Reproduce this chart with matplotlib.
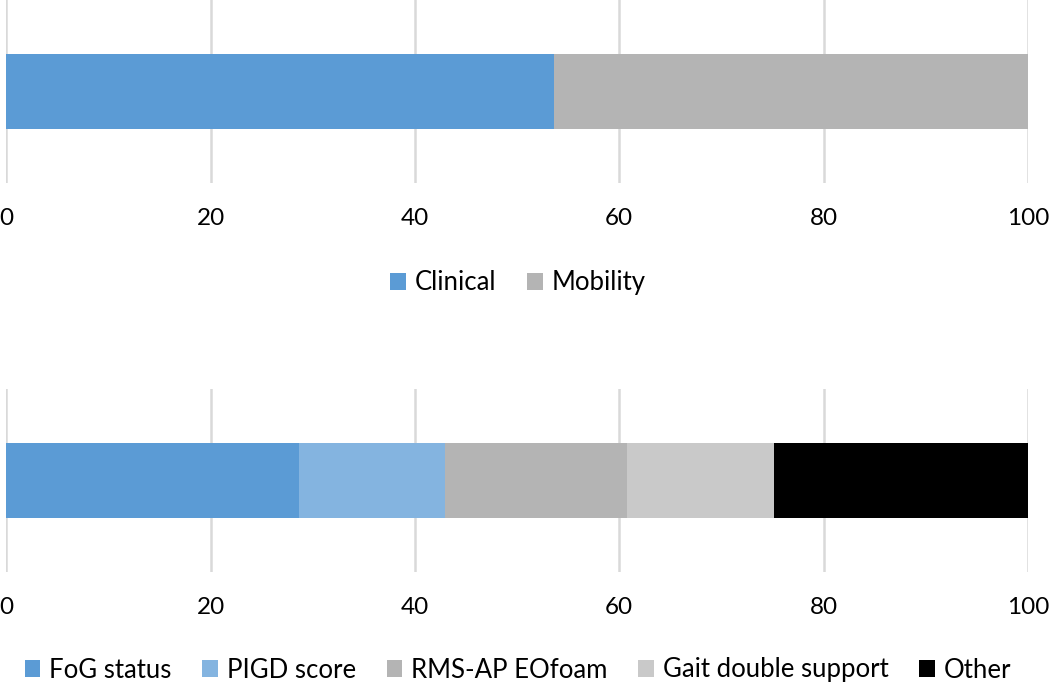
import matplotlib
matplotlib.use("Agg")
import matplotlib.pyplot as plt
from matplotlib.patches import Patch

plt.rcParams['font.family'] = ['Lato', 'DejaVu Sans']

top_labels = ["Clinical", "Mobility"]
top_values = [53.6, 46.4]
top_colors = ["#5B9BD5", "#B4B4B4"]

bot_labels = ["FoG status", "PIGD score", "RMS-AP EOfoam", "Gait double support", "Other"]
bot_values = [28.6, 14.3, 17.9, 14.3, 24.9]
bot_colors = ["#5B9BD5", "#84B4E0", "#B4B4B4", "#C9C9C9", "#000000"]

xticks = [0, 20, 40, 60, 80, 100]

W, H = 1050, 686
fig = plt.figure(figsize=(W / 100, H / 100), dpi=100)

def make_axes(top_px, bottom_px):
    left = 6.4 / W
    width = 1021.5 / W
    return fig.add_axes([left, 1 - bottom_px / H, width, (bottom_px - top_px) / H])

def draw(ax, values, colors, labels, legend_y):
    left = 0
    for v, c, l in zip(values, colors, labels):
        ax.barh([0], [v], left=left, height=0.405, color=c, label=l, zorder=2)
        left += v
    ax.set_xlim(0, 100)
    ax.set_ylim(-0.5, 0.5)
    ax.set_xticks(xticks)
    ax.set_xticklabels([str(t) for t in xticks], fontsize=17.5)
    ax.set_yticks([])
    ax.tick_params(axis='x', length=0, pad=18)
    for s in ax.spines.values():
        s.set_visible(False)
    ax.grid(axis='x', color='#D9D9D9', linewidth=1.8, zorder=0)
    ax.set_axisbelow(True)
    handles = [Patch(facecolor=c, edgecolor='none') for c in colors]
    fig.legend(handles, labels, loc='center', bbox_to_anchor=(518 / W, 1 - legend_y / H),
               ncol=len(labels), frameon=False, fontsize=18.5,
               handlelength=0.6, handleheight=0.6, handletextpad=0.35,
               columnspacing=1.2, borderaxespad=0)

ax1 = make_axes(0, 183)
draw(ax1, top_values, top_colors, top_labels, 283)
ax2 = make_axes(389, 572)
draw(ax2, bot_values, bot_colors, bot_labels, 670)

fig.savefig("out.png", dpi=100)
